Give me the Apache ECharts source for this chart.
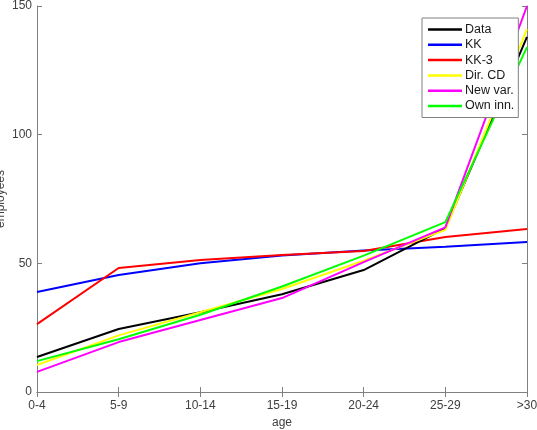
<!DOCTYPE html>
<html><head><meta charset="utf-8">
<script src="https://cdn.jsdelivr.net/npm/echarts@6/dist/echarts.min.js"></script>
<style>html,body{margin:0;padding:0;background:#fff}#c{width:537px;height:430px}</style>
</head><body><div id="c"></div>
<script>
const categories = ['0-4','5-9','10-14','15-19','20-24','25-29','>30'];
const dataSeries = [13.6, 24.5, 31, 38, 47.4, 63.7, 138];
const kk = [38.9, 45.5, 50, 53, 55, 56.4, 58.3];
const kk3 = [26.4, 48.2, 51.3, 53.2, 54.8, 60.2, 63.3];
const dirCD = [10.5, 22, 31, 40, 51, 63, 141];
const newVar = [7.8, 19.4, 28, 36.5, 50.5, 64, 150];
const ownInn = [12, 20.5, 30, 41, 53, 66, 134];
const yTicks = [0, 50, 100, 150];

const names = ['Data','KK','KK-3','Dir. CD','New var.','Own inn.'];
const colors = ['#000000','#0000ff','#ff0000','#ffff00','#ff00ff','#00ff00'];
const values = [dataSeries, kk, kk3, dirCD, newVar, ownInn];
const drawOrder = [1,2,0,3,4,5];

const axisColor = '#808080';
const font = 'Liberation Sans, Arial, sans-serif';

const chart = echarts.init(document.getElementById('c'));
chart.setOption({
  animation: false,
  grid: {left: 37, right: 10, top: 6, bottom: 38, containLabel: false, outerBoundsMode: 'none'},
  xAxis: [{
    type: 'category', data: categories, boundaryGap: false,
    name: 'age', nameLocation: 'middle', nameGap: 25, nameMoveOverlap: false,
    nameTextStyle: {color: '#404040', fontSize: 12, fontFamily: font},
    axisLine: {lineStyle: {color: axisColor, width: 1}},
    axisTick: {inside: true, length: 5, alignWithLabel: true, lineStyle: {color: axisColor}},
    axisLabel: {color: '#404040', fontSize: 12, fontFamily: font, margin: 8},
    splitLine: {show: false}
  }, {
    type: 'category', data: categories, boundaryGap: false, position: 'top',
    axisLine: {lineStyle: {color: axisColor, width: 1}},
    axisTick: {inside: true, length: 5, lineStyle: {color: axisColor}},
    axisLabel: {show: false}, splitLine: {show: false}
  }],
  yAxis: [{
    type: 'value', min: 0, max: 150, interval: 50,
    name: 'employees', nameLocation: 'middle', nameGap: 30, nameMoveOverlap: false,
    nameTextStyle: {color: '#404040', fontSize: 12, fontFamily: font},
    axisLine: {show: true, lineStyle: {color: axisColor, width: 1}},
    axisTick: {show: true, inside: true, length: 5, lineStyle: {color: axisColor}},
    axisLabel: {color: '#404040', fontSize: 12, fontFamily: font, margin: 5},
    splitLine: {show: false}
  }, {
    type: 'value', min: 0, max: 150, interval: 50, position: 'right',
    axisLine: {show: true, lineStyle: {color: axisColor, width: 1}},
    axisTick: {show: true, inside: true, length: 5, lineStyle: {color: axisColor}},
    axisLabel: {show: false}, splitLine: {show: false}
  }],
  legend: {
    orient: 'vertical', left: 422, top: 18,
    data: names.map((n, i) => ({name: n, icon: 'rect', itemStyle: {color: colors[i]}})),
    itemWidth: 34, itemHeight: 2.5, itemGap: 0.3,
    padding: [4, 4, 4, 6],
    borderColor: '#808080', borderWidth: 1, backgroundColor: '#fff',
    textStyle: {color: '#1a1a1a', fontSize: 12.5, fontFamily: font, lineHeight: 15, padding: [0,0,0,-2]}
  },
  series: drawOrder.map(i => ({
    name: names[i], type: 'line', data: values[i],
    symbol: 'none', lineStyle: {color: colors[i], width: 2}, itemStyle: {color: colors[i]},
    clip: true
  }))
});
</script></body></html>
